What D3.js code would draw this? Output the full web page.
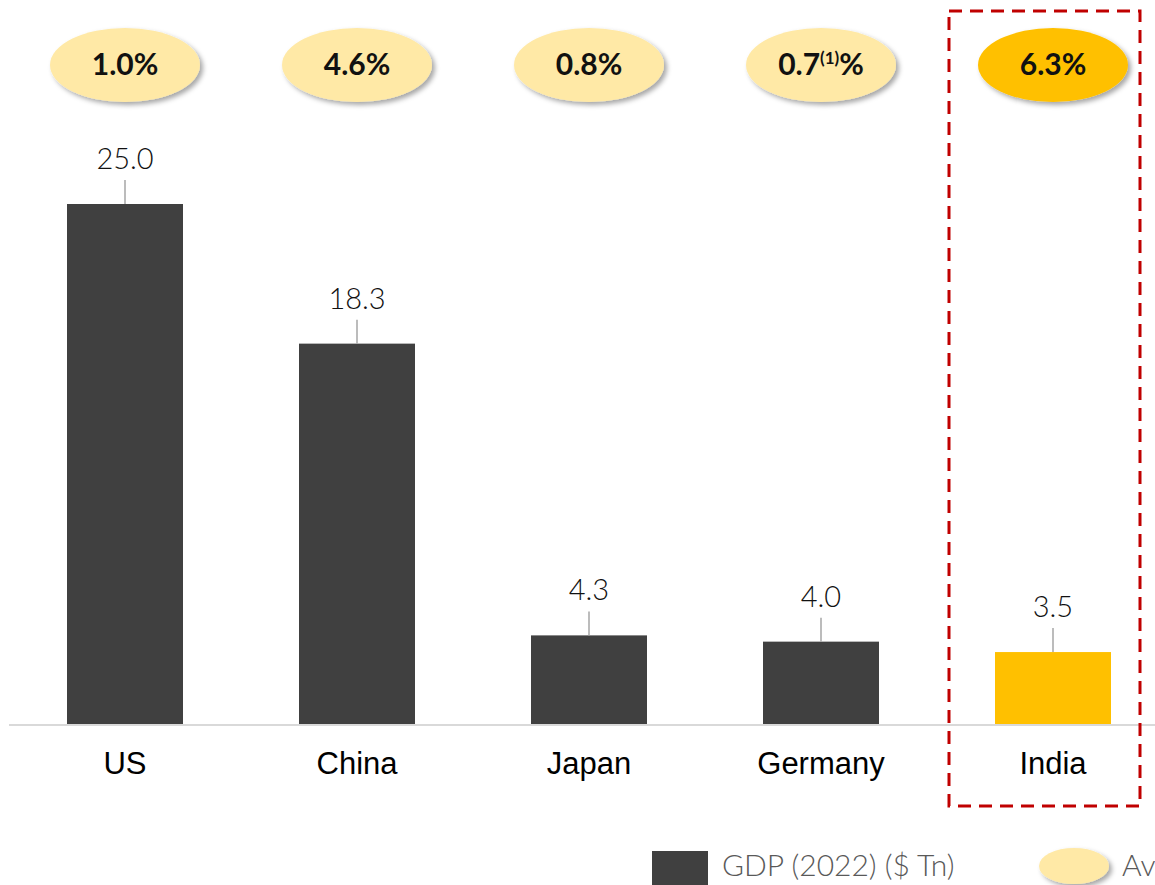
<!DOCTYPE html>
<html>
<head>
<meta charset="utf-8">
<script src="https://cdn.jsdelivr.net/npm/d3@7"></script>
<style>
  html, body { margin: 0; padding: 0; background: #fff; overflow: hidden; }
  svg { display: block; }
</style>
</head>
<body>
<svg id="chart" width="1155" height="885"></svg>
<script>
// GDP by country, with average growth shown in the bubbles above each bar
const countries = ["US", "China", "Japan", "Germany", "India"];
const gdp = [25.0, 18.3, 4.3, 4.0, 3.5];
const growth = ["1.0", "4.6", "0.8", "0.7", "6.3"];
const growthNote = ["", "", "", "(1)", ""];
const highlight = "India";

const svg = d3.select("#chart");
const W = 1155, H = 885;
const baseY = 725;

const defs = svg.append("defs");
const shadow = defs.append("filter").attr("id", "shadow")
  .attr("x", "-20%").attr("y", "-20%").attr("width", "150%").attr("height", "160%");
shadow.append("feDropShadow").attr("dx", 3).attr("dy", 3).attr("stdDeviation", 2.5)
  .attr("flood-color", "#000").attr("flood-opacity", 0.35);

const x = d3.scaleBand().domain(countries).range([9, 1169])
  .paddingInner(0.5).paddingOuter(0.25);
const y = d3.scaleLinear().domain([0, 25]).range([baseY, 204]);

const rows = countries.map((c, i) => ({ c, v: gdp[i], g: growth[i], n: growthNote[i] }));

// bars
svg.append("g").selectAll("rect").data(rows).join("rect")
  .attr("x", d => x(d.c)).attr("width", x.bandwidth())
  .attr("y", d => y(d.v)).attr("height", d => baseY - y(d.v))
  .attr("fill", d => d.c === highlight ? "#FFC000" : "#404040");

// leader lines + value labels
const lab = svg.append("g");
lab.selectAll("line").data(rows).join("line")
  .attr("x1", d => x(d.c) + x.bandwidth() / 2).attr("x2", d => x(d.c) + x.bandwidth() / 2)
  .attr("y1", d => y(d.v)).attr("y2", d => y(d.v) - 24)
  .attr("stroke", "#a6a6a6").attr("stroke-width", 1.5);
lab.selectAll("text").data(rows).join("text")
  .attr("x", d => x(d.c) + x.bandwidth() / 2).attr("y", d => y(d.v) - 35)
  .attr("text-anchor", "middle")
  .attr("font-family", "Lato, 'Open Sans', sans-serif").attr("font-weight", 300)
  .attr("font-size", 29).attr("fill", "#111")
  .text(d => d.v.toFixed(1));

// baseline
svg.append("line").attr("x1", 9).attr("x2", W).attr("y1", baseY).attr("y2", baseY)
  .attr("stroke", "#d9d9d9").attr("stroke-width", 2);

// category axis labels
const xAxis = svg.append("g").attr("transform", `translate(0,${baseY})`)
  .call(d3.axisBottom(x).tickSize(0).tickPadding(27));
xAxis.select(".domain").remove();
xAxis.selectAll("text").attr("font-family", "'Liberation Sans', Arial, sans-serif")
  .attr("font-size", 31).attr("fill", "#000");

// growth bubbles
const bub = svg.append("g").selectAll("g").data(rows).join("g")
  .attr("transform", d => `translate(${x(d.c) + x.bandwidth() / 2},65)`);
bub.append("ellipse").attr("rx", 75).attr("ry", 37)
  .attr("fill", d => d.c === highlight ? "#FFC000" : "#FFE9A6")
  .attr("filter", "url(#shadow)");
const bt = bub.append("text").attr("text-anchor", "middle").attr("dy", 10)
  .attr("font-family", "Lato, sans-serif").attr("font-weight", 700)
  .attr("font-size", 30).attr("fill", "#111");
bt.append("tspan").text(d => d.g);
bt.filter(d => d.n).append("tspan").attr("font-size", 17).attr("dy", -11).text(d => d.n);
bt.filter(d => d.n).append("tspan").attr("dy", 11).text("%");
bt.filter(d => !d.n).select("tspan").text(d => d.g + "%");

// dashed highlight frame
svg.append("rect").attr("x", 949).attr("y", 11).attr("width", 191).attr("height", 795)
  .attr("fill", "none").attr("stroke", "#C00000").attr("stroke-width", 3)
  .attr("stroke-dasharray", "13,8");

// legend
const lg = svg.append("g");
lg.append("rect").attr("x", 652).attr("y", 851).attr("width", 56).attr("height", 40).attr("fill", "#404040");
lg.append("text").attr("x", 722).attr("y", 876)
  .attr("font-family", "Lato, sans-serif").attr("font-weight", 300)
  .attr("font-size", 30).attr("fill", "#595959")
  .text("GDP (2022) ($ Tn)");
lg.append("ellipse").attr("cx", 1074).attr("cy", 866).attr("rx", 35).attr("ry", 18)
  .attr("fill", "#FFE9A6").attr("filter", "url(#shadow)");
lg.append("text").attr("x", 1122).attr("y", 876)
  .attr("font-family", "Lato, sans-serif").attr("font-weight", 300)
  .attr("font-size", 30).attr("fill", "#595959")
  .text("Avg. GDP Growth");
</script>
</body>
</html>
